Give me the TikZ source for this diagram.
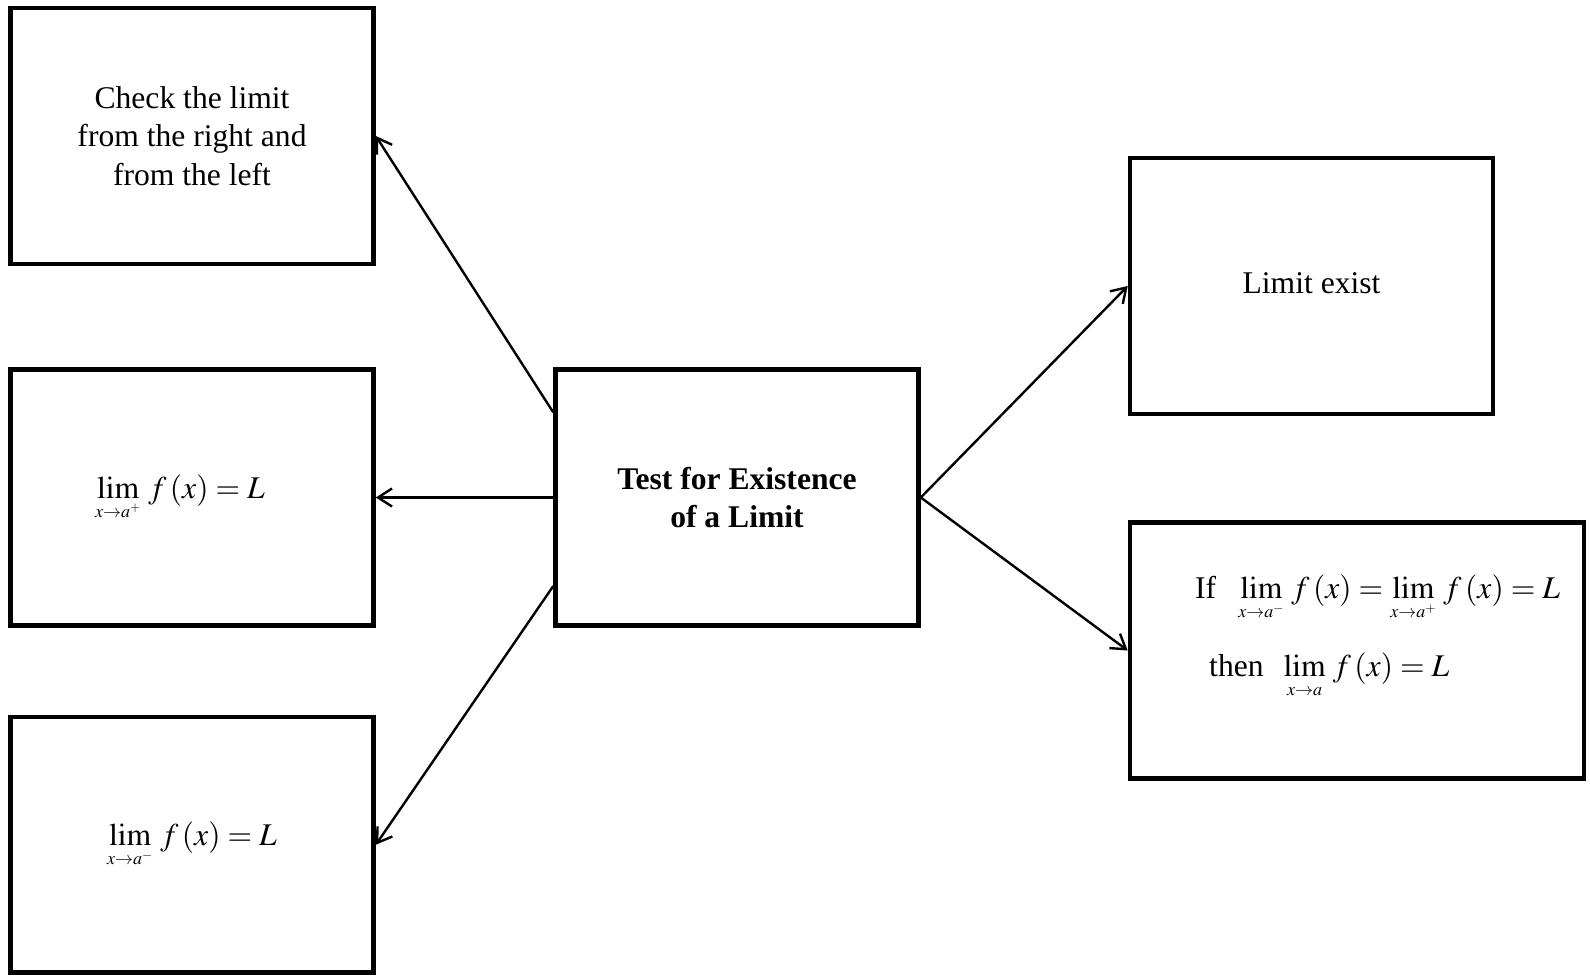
\documentclass[tikz,border=0pt]{standalone}
\usepackage{mathptmx}
\usepackage[no-math]{fontspec}
\setmainfont{Liberation Serif}
\DeclareMathSizes{15.8}{15.8}{9}{6.5}
\usetikzlibrary{arrows.meta,calc}

\tikzset{every picture/.style={line width=1.2pt}}
\tikzset{
  box/.style={draw,line width=2.3pt,minimum width=181.5pt,minimum height=128pt,
    inner sep=0pt,align=center,font=\fontsize{15.8}{19.3}\selectfont},
  link/.style={-{Straight Barb[length=7pt,width=9pt]},line width=1.2pt},
}

\begin{document}
\begin{tikzpicture}[x=0.5pt,y=0.5pt,yscale=-1,xscale=1]
\useasboundingbox (0,0) rectangle (1590,975);

%Shape: Rectangle [main]
\node[box] (test) at (737,497.5) {\textbf{Test for Existence}\\\textbf{of a Limit}};
%Shape: Rectangle [left column]
\node[box] (check) at (192,136) {Check the limit\\from the right and\\from the left};
\node[box] (right) at (192,497.5) {$\displaystyle\lim_{x\to a^+}\, f\,(x)=L$\hspace*{12pt}};
\node[box,minimum height=127.75pt] (left) at (192,844.75) {$\displaystyle\lim_{x\to a^-}\, f\,(x)=L$};
%Shape: Rectangle [right column]
\node[box] (exist) at (1311.5,286) {\raisebox{3pt}{Limit exist}};
\node[box,minimum width=227pt] (cond) at (1357,650.5) {};

% Text Node
\node[anchor=north west,inner sep=0pt,align=left,font=\fontsize{15.8}{19.3}\selectfont] (condtext) at (1194,574)
  {If\hspace{11pt}$\displaystyle\lim_{x\to a^-}\, f\,(x)=\lim_{x\to a^+}\, f\,(x)=L$\\[15pt]
   \hspace*{7pt}then\hspace{10pt}$\displaystyle\lim_{x\to a}\, f\,(x)=L$};

%Straight Lines
\draw[link] ($(test.north west)!0.173!(test.south west)$) -- (check.east);
\draw[link] (test.west) -- (right.east);
\draw[link] ($(test.north west)!0.84!(test.south west)$) -- (left.east);
\draw[link] (test.east) -- (exist.west);
\draw[link] (test.east) -- (cond.west);
\end{tikzpicture}
\end{document}
